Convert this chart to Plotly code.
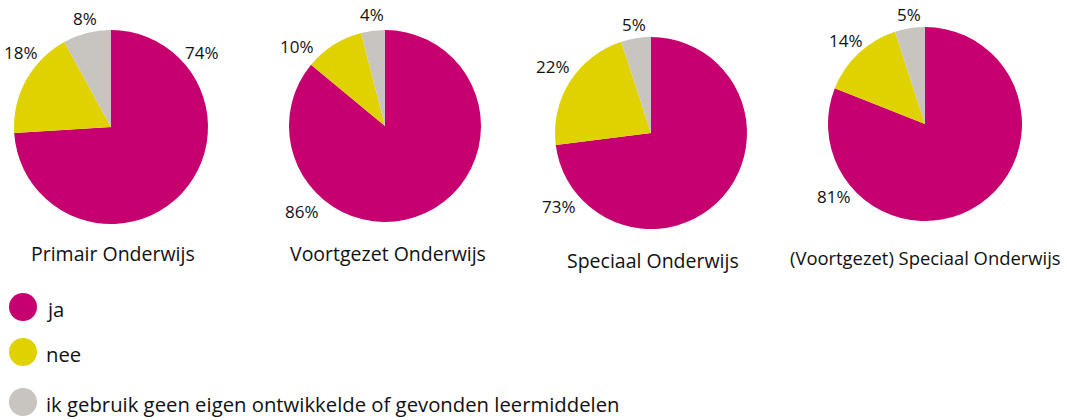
import plotly.graph_objects as go

# ---- data ----
categories = ["ja", "nee", "ik gebruik geen eigen ontwikkelde of gevonden leermiddelen"]
groups = ["Primair Onderwijs", "Voortgezet Onderwijs", "Speciaal Onderwijs", "(Voortgezet) Speciaal Onderwijs"]
po_values = [74, 18, 8]
vo_values = [86, 10, 4]
so_values = [73, 22, 5]
vso_values = [81, 14, 5]
series = [po_values, vo_values, so_values, vso_values]

# ---- styling / layout ----
W, H = 1067, 420
colors = ["#c6006f", "#e0d200", "#c8c4bf"]
FONT = "Open Sans"
TXT = "#111111"

# pie centre (px) and radius (px)
pie_geom = [(111, 127, 97), (385, 126, 96), (651, 133, 96), (925, 124, 97)]
# label centres (px) per pie, per category
label_pos = [
    [(202, 52), (21, 52), (85, 19)],
    [(302, 211), (297, 46), (372, 15)],
    [(559, 206), (553, 66), (634, 24)],
    [(834, 196), (846, 41), (909, 15)],
]
title_pos = [(113, 254), (388, 254), (653, 260), (925, 257)]
title_size = [19.5, 19.5, 19.5, 18.4]
legend_y = [307, 352, 402]


def px(x):
    return x / W


def py(y):
    return 1 - y / H


fig = go.Figure()
annotations = []
for i, (vals, name) in enumerate(zip(series, groups)):
    cx, cy, r = pie_geom[i]
    fig.add_trace(go.Pie(
        labels=categories,
        values=vals,
        sort=False,
        direction="clockwise",
        rotation=0,
        marker=dict(colors=colors, line=dict(width=0)),
        textinfo="none",
        hoverinfo="label+percent",
        showlegend=False,
        domain=dict(x=[px(cx - r), px(cx + r)], y=[py(cy + r), py(cy - r)]),
        name=name,
    ))
    for j, v in enumerate(vals):
        lx, ly = label_pos[i][j]
        annotations.append(dict(
            x=px(lx), y=py(ly), xref="paper", yref="paper",
            text=f"{v}%", showarrow=False,
            xanchor="center", yanchor="middle",
            font=dict(family=FONT, size=17, color=TXT),
        ))
    tx, ty = title_pos[i]
    annotations.append(dict(
        x=px(tx), y=py(ty), xref="paper", yref="paper",
        text=name, showarrow=False, xanchor="center", yanchor="middle",
        font=dict(family=FONT, size=title_size[i], color=TXT),
    ))

# manual legend with big circles
fig.add_trace(go.Scatter(
    x=[23] * len(categories),
    y=legend_y,
    mode="markers",
    marker=dict(size=28, color=colors, line=dict(width=0)),
    hoverinfo="skip",
    showlegend=False,
    cliponaxis=False,
))
for c, ly in zip(categories, legend_y):
    annotations.append(dict(
        x=px(44), y=py(ly + 2), xref="paper", yref="paper",
        text=c, showarrow=False, xanchor="left", yanchor="middle",
        font=dict(family=FONT, size=20.3, color=TXT),
    ))

fig.update_layout(
    width=W, height=H,
    margin=dict(l=0, r=0, t=0, b=0),
    paper_bgcolor="white", plot_bgcolor="white",
    annotations=annotations,
    xaxis=dict(range=[0, W], visible=False, domain=[0, 1], fixedrange=True),
    yaxis=dict(range=[H, 0], visible=False, domain=[0, 1], fixedrange=True),
    font=dict(family=FONT, color=TXT),
)

fig.write_html(
    "out.html",
    config={"displayModeBar": False},
    post_script="document.body.style.margin='0px';document.body.style.overflow='hidden';",
)
